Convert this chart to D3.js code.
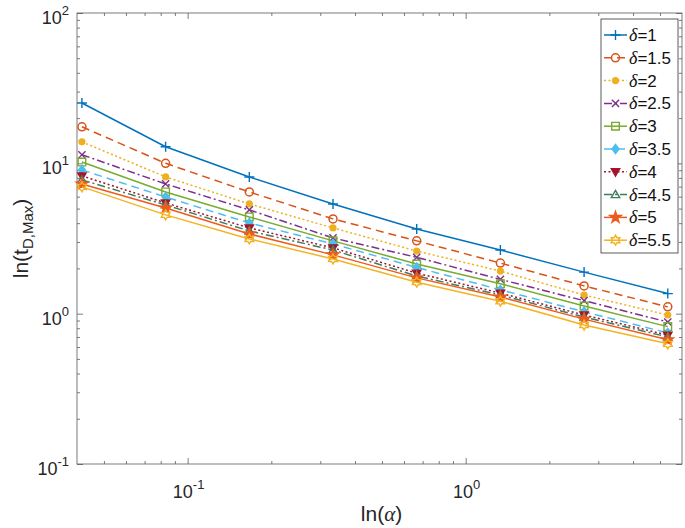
<!DOCTYPE html>
<html>
<head>
<meta charset="utf-8">
<script src="https://cdn.jsdelivr.net/npm/d3@7"></script>
<style>
  html, body { margin: 0; padding: 0; background: #fff; }
  svg { display: block; }
</style>
</head>
<body>
<svg id="chart" width="685" height="528"></svg>
<script>
// ---------------- data ----------------
const alphaValues = [1/24, 1/12, 1/6, 1/3, 2/3, 4/3, 8/3, 16/3];
const deltaLabels = ["1", "1.5", "2", "2.5", "3", "3.5", "4", "4.5", "5", "5.5"];
const tD_delta1   = [25.2, 12.9, 8.12, 5.37, 3.66, 2.65, 1.89, 1.36];
const tD_delta1_5 = [17.5, 10.0, 6.45, 4.27, 3.05, 2.17, 1.53, 1.11];
const tD_delta2   = [13.9, 8.12, 5.37, 3.72, 2.61, 1.92, 1.33, 0.98];
const tD_delta2_5 = [11.4, 7.29, 4.90, 3.19, 2.37, 1.69, 1.22, 0.88];
const tD_delta3   = [10.2, 6.45, 4.40, 3.05, 2.14, 1.58, 1.125, 0.82];
const tD_delta3_5 = [9.04, 5.97, 4.01, 2.91, 2.03, 1.44, 1.03, 0.745];
const tD_delta4   = [8.25, 5.45, 3.72, 2.74, 1.86, 1.37, 0.98, 0.72];
const tD_delta4_5 = [7.76, 5.29, 3.55, 2.65, 1.78, 1.33, 0.95, 0.70];
const tD_delta5   = [7.29, 5.05, 3.39, 2.46, 1.73, 1.29, 0.92, 0.67];
const tD_delta5_5 = [6.97, 4.54, 3.14, 2.31, 1.62, 1.21, 0.84, 0.63];
const xMajorTicks = [0.1, 1];
const xMajorExp = ["-1", "0"];
const yMajorTicks = [0.1, 1, 10, 100];
const yMajorExp = ["-1", "0", "1", "2"];

const seriesValues = [tD_delta1, tD_delta1_5, tD_delta2, tD_delta2_5, tD_delta3,
                      tD_delta3_5, tD_delta4, tD_delta4_5, tD_delta5, tD_delta5_5];

// ---------------- styles ----------------
const colors = ["#0072BD", "#D95319", "#EDB120", "#7E2F8E", "#77AC30",
                "#4DBEEE", "#A2142F", "#3E7D5C", "#EE5A1E", "#F4B224"];
const dashes = [null, "8,5", "2,2.5", "8,3,2,3", null, "8,5", "2,2.5", "8,3,2,3", null, null];
const markers = ["plus", "circle", "dot", "x", "square", "diamond", "tridown", "triup", "star", "hexagram"];

const margin = {left: 77, right: 682, top: 13, bottom: 464};
const svg = d3.select("#chart");

const x = d3.scaleLog().domain([0.04, 6]).range([margin.left, margin.right]);
const y = d3.scaleLog().domain([0.1, 100]).range([margin.bottom, margin.top]);

const axisColor = "#5a5a5a";

// minor ticks
function minorTicks(domain) {
  const out = [];
  const lo = Math.floor(Math.log10(domain[0])), hi = Math.ceil(Math.log10(domain[1]));
  for (let e = lo; e < hi; e++) {
    for (let m = 2; m <= 9; m++) {
      const v = m * Math.pow(10, e);
      if (v > domain[0] * 1.001 && v < domain[1] * 0.999) out.push(v);
    }
  }
  return out;
}
const xMinor = minorTicks(x.domain());
const yMinor = minorTicks(y.domain());

const gAxes = svg.append("g");
function drawAxis(gen, tr, vals, size) {
  const g = gAxes.append("g").attr("transform", tr)
    .call(gen.tickValues(vals).tickSizeInner(-size).tickSizeOuter(0).tickFormat(""));
  g.select(".domain").remove();
  g.selectAll(".tick line").attr("stroke", axisColor).attr("stroke-width", 0.8);
  return g;
}
drawAxis(d3.axisBottom(x), `translate(0,${margin.bottom})`, xMajorTicks, 6);
drawAxis(d3.axisBottom(x), `translate(0,${margin.bottom})`, xMinor, 3);
drawAxis(d3.axisTop(x), `translate(0,${margin.top})`, xMajorTicks, 6);
drawAxis(d3.axisTop(x), `translate(0,${margin.top})`, xMinor, 3);
drawAxis(d3.axisLeft(y), `translate(${margin.left},0)`, yMajorTicks, 6);
drawAxis(d3.axisLeft(y), `translate(${margin.left},0)`, yMinor, 3);
drawAxis(d3.axisRight(y), `translate(${margin.right},0)`, yMajorTicks, 6);
drawAxis(d3.axisRight(y), `translate(${margin.right},0)`, yMinor, 3);

// frame
gAxes.append("rect")
  .attr("x", margin.left).attr("y", margin.top)
  .attr("width", margin.right - margin.left).attr("height", margin.bottom - margin.top)
  .attr("fill", "none").attr("stroke", axisColor).attr("stroke-width", 0.8);

// tick labels
const font = "'Liberation Sans', Arial, Helvetica, sans-serif";
const labelColor = "#262626";
xMajorTicks.forEach((t, i) => {
  const tx = svg.append("text").attr("x", x(t) + 1).attr("y", 498)
    .attr("text-anchor", "middle").attr("font-family", font).attr("font-size", 18).attr("fill", labelColor);
  tx.append("tspan").text("10");
  tx.append("tspan").attr("dy", -9).attr("font-size", 13).text(xMajorExp[i]);
});
yMajorTicks.forEach((t, i) => {
  const tx = svg.append("text").attr("x", 69).attr("y", y(t) + 11)
    .attr("text-anchor", "end").attr("font-family", font).attr("font-size", 18).attr("fill", labelColor);
  tx.append("tspan").text("10");
  tx.append("tspan").attr("dy", -9).attr("font-size", 13).text(yMajorExp[i]);
});

// axis titles
const xt = svg.append("text").attr("x", (margin.left + margin.right) / 2 + 2).attr("y", 521)
  .attr("text-anchor", "middle").attr("font-family", font).attr("font-size", 21).attr("fill", labelColor);
xt.append("tspan").text("ln(");
xt.append("tspan").attr("font-family", "'Liberation Serif', 'DejaVu Serif', serif").attr("font-style", "italic").text("α");
xt.append("tspan").text(")");

const yt = svg.append("text")
  .attr("transform", `translate(28,${(margin.top + margin.bottom) / 2}) rotate(-90)`)
  .attr("text-anchor", "middle").attr("font-family", font).attr("font-size", 21).attr("fill", labelColor);
yt.append("tspan").text("ln(t");
yt.append("tspan").attr("dy", 5).attr("font-size", 15).text("D,Max");
yt.append("tspan").attr("dy", -5).text(")");

// marker paths
function markerPath(type) {
  switch (type) {
    case "plus": return "M-5,0H5M0,-5V5";
    case "x": return "M-3.6,-3.6L3.6,3.6M-3.6,3.6L3.6,-3.6";
    case "square": return "M-3.8,-3.8H3.8V3.8H-3.8Z";
    case "diamond": return "M0,-4.5L3.5,0L0,4.5L-3.5,0Z";
    case "tridown": return "M-4.2,-3L4.2,-3L0,4.2Z";
    case "triup": return "M-4.2,3L4.2,3L0,-4.2Z";
    case "star": return d3.symbol(d3.symbolStar, 40)();
    case "hexagram": {
      const r = 5, pts = [];
      for (let k = 0; k < 12; k++) {
        const a = -Math.PI / 2 + k * Math.PI / 6;
        const rr = k % 2 === 0 ? r : r * 0.577;
        pts.push([rr * Math.cos(a), rr * Math.sin(a)]);
      }
      return "M" + pts.map(p => p[0].toFixed(2) + "," + p[1].toFixed(2)).join("L") + "Z";
    }
    default: return null;
  }
}
function drawMarker(g, type, color, cx, cy) {
  if (type === "circle") {
    g.append("circle").attr("cx", cx).attr("cy", cy).attr("r", 4)
      .attr("fill", "none").attr("stroke", color).attr("stroke-width", 1.5);
  } else if (type === "dot") {
    g.append("circle").attr("cx", cx).attr("cy", cy).attr("r", 3.6).attr("fill", color);
  } else {
    const filled = (type === "diamond" || type === "tridown" || type === "star");
    g.append("path").attr("d", markerPath(type)).attr("transform", `translate(${cx},${cy})`)
      .attr("fill", filled ? color : "none").attr("stroke", color).attr("stroke-width", 1.4);
  }
}

// lines
const line = d3.line().x(d => x(d[0])).y(d => y(d[1]));
const gData = svg.append("g");
seriesValues.forEach((vals, i) => {
  const pts = alphaValues.map((a, j) => [a, vals[j]]);
  gData.append("path").attr("d", line(pts)).attr("fill", "none")
    .attr("stroke", colors[i]).attr("stroke-width", 1.5)
    .attr("stroke-dasharray", dashes[i]);
  pts.forEach(p => drawMarker(gData, markers[i], colors[i], x(p[0]), y(p[1])));
});

// legend
const lg = svg.append("g");
const lgX = 601, lgY = 19, lgW = 77, lgH = 234, rowH = 22.8;
lg.append("rect").attr("x", lgX).attr("y", lgY).attr("width", lgW).attr("height", lgH)
  .attr("fill", "#fff").attr("stroke", "#333").attr("stroke-width", 0.8);
deltaLabels.forEach((lab, i) => {
  const cy = lgY + 16 + i * rowH;
  lg.append("line").attr("x1", 604).attr("x2", 627).attr("y1", cy).attr("y2", cy)
    .attr("stroke", colors[i]).attr("stroke-width", 1.5).attr("stroke-dasharray", dashes[i]);
  drawMarker(lg, markers[i], colors[i], 615.5, cy);
  const t = lg.append("text").attr("x", 629).attr("y", cy + 6)
    .attr("font-family", font).attr("font-size", 17).attr("fill", "#111");
  t.append("tspan").attr("font-family", "'Liberation Serif', 'DejaVu Serif', serif")
    .attr("font-style", "italic").attr("font-size", 18).text("δ");
  t.append("tspan").text("=" + lab);
});
</script>
</body>
</html>
